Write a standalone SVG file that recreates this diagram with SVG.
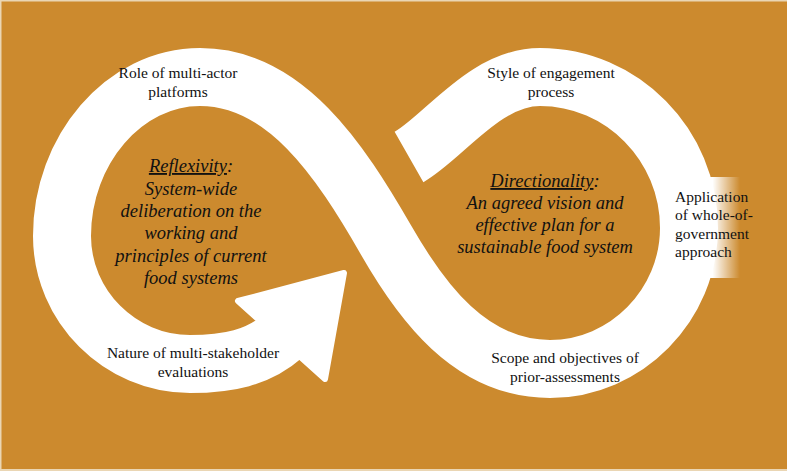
<svg xmlns="http://www.w3.org/2000/svg" width="787" height="471" viewBox="0 0 787 471">
  <defs>
    <style>
      .band { fill: none; stroke: #ffffff; stroke-width: 58; stroke-linecap: butt; stroke-linejoin: round; }
      .head { fill: #ffffff; stroke: #ffffff; stroke-width: 6; stroke-linejoin: round; }
      .lbl { font-size: 15.5px; fill: #111111; text-anchor: middle; }
      .lft { text-anchor: start; }
      .it { font-style: italic; font-size: 18.5px; fill: #111111; text-anchor: middle; }
      .ul { text-decoration: underline; }
    </style>
    <linearGradient id="fade" x1="666" y1="0" x2="740" y2="0" gradientUnits="userSpaceOnUse">
      <stop offset="0" stop-color="#ffffff" stop-opacity="1"/>
      <stop offset="0.63" stop-color="#ffffff" stop-opacity="1"/>
      <stop offset="1" stop-color="#ffffff" stop-opacity="0"/>
    </linearGradient>
  </defs>

  <rect x="0" y="0" width="787" height="471" fill="#ead6b4"/>
  <rect x="1.5" y="1.5" width="786" height="467.5" fill="#cc8a2e"/>

  <g id="connectors">
    <path id="loop" class="band" d="M 283 336 C 258 358, 228 364, 190 364 C 120 364, 62 306, 62 236 C 62 150, 124 77, 200 77 C 285 77, 340 160, 386 240 C 421 301, 470 369, 550 369 C 626 369, 689 305, 689 228 C 689 145, 622 77, 540 77 C 485 77, 444 137, 409 157"/>
    <polygon id="arrowhead" class="head" points="238,301 344,273 325,379"/>
  </g>

  <g font-family="Liberation Serif, Tinos, Times New Roman, serif">
  <g id="node-role">
    <text class="lbl" x="178" y="78">Role of multi-actor</text>
    <text class="lbl" x="178" y="97">platforms</text>
  </g>

  <g id="node-style">
    <text class="lbl" x="551" y="78">Style of engagement</text>
    <text class="lbl" x="551" y="97">process</text>
  </g>

  <g id="node-nature">
    <text class="lbl" x="193" y="358">Nature of multi-stakeholder</text>
    <text class="lbl" x="193" y="377">evaluations</text>
  </g>

  <g id="node-scope">
    <text class="lbl" x="565" y="363">Scope and objectives of</text>
    <text class="lbl" x="565" y="382">prior-assessments</text>
  </g>

  <g id="node-application">
    <rect x="666" y="177" width="74" height="101" fill="url(#fade)"/>
    <text class="lbl lft" x="675" y="202">Application</text>
    <text class="lbl lft" x="675" y="220">of whole-of-</text>
    <text class="lbl lft" x="675" y="238.5">government</text>
    <text class="lbl lft" x="675" y="257">approach</text>
  </g>

  <g id="node-reflexivity">
    <text class="it" x="191" y="172"><tspan class="ul">Reflexivity</tspan>:</text>
    <text class="it" x="191" y="195">System-wide</text>
    <text class="it" x="191" y="217">deliberation on the</text>
    <text class="it" x="191" y="239">working and</text>
    <text class="it" x="191" y="262">principles of current</text>
    <text class="it" x="191" y="284">food systems</text>
  </g>

  <g id="node-directionality">
    <text class="it" x="545" y="187"><tspan class="ul">Directionality</tspan>:</text>
    <text class="it" x="545" y="209">An agreed vision and</text>
    <text class="it" x="545" y="231">effective plan for a</text>
    <text class="it" x="545" y="253">sustainable food system</text>
  </g>
  </g>
</svg>
